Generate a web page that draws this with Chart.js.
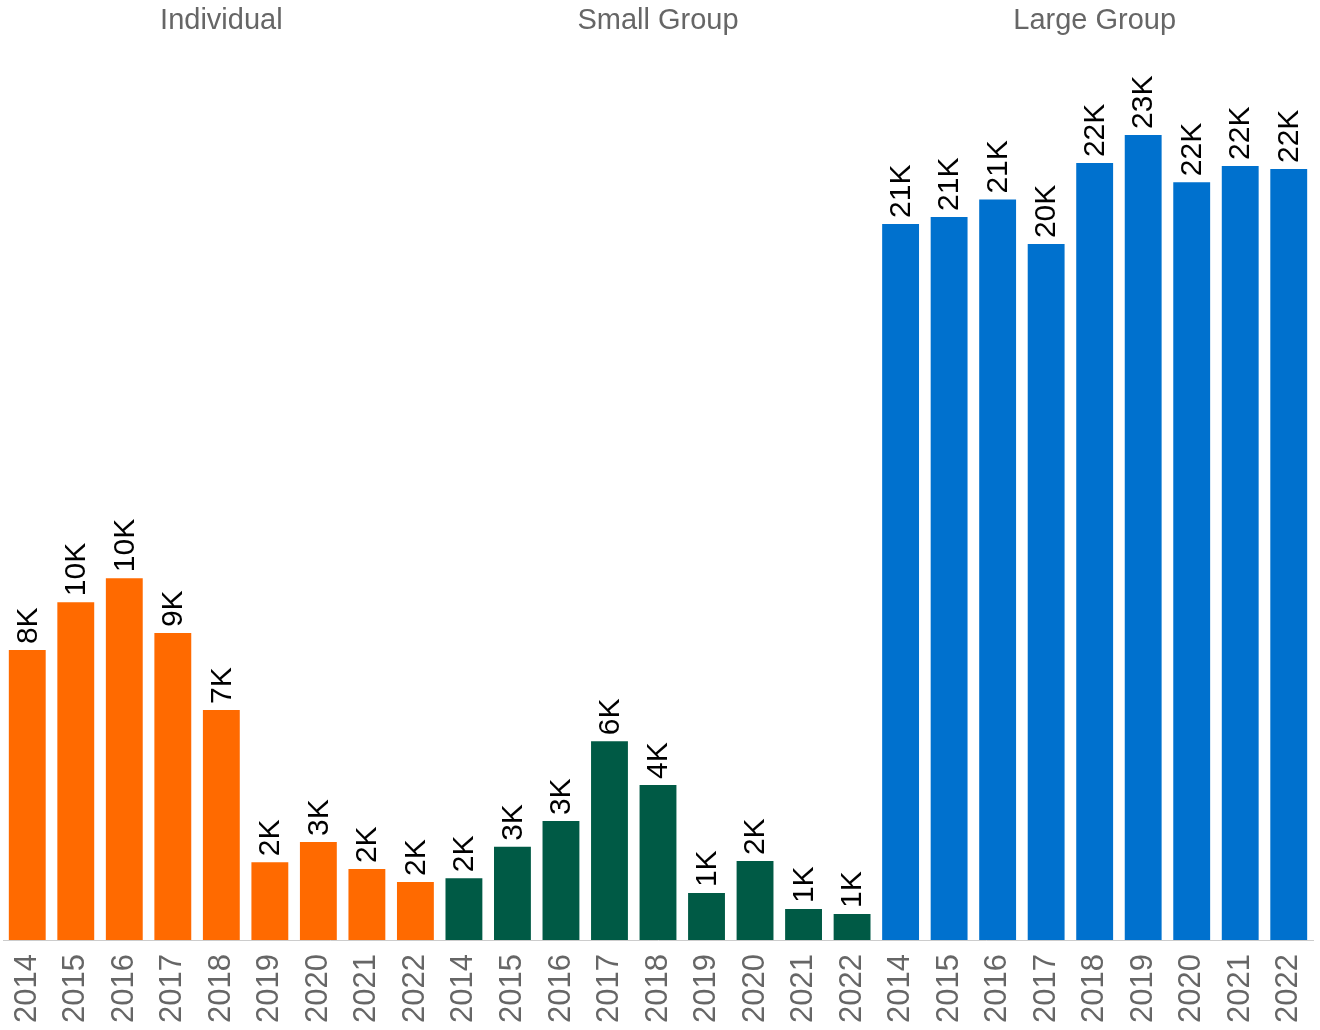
<!DOCTYPE html>
<html>
<head>
<meta charset="utf-8">
<script src="https://cdn.jsdelivr.net/npm/chart.js@4/dist/chart.umd.min.js"></script>
<style>
  html, body { margin: 0; padding: 0; background: #fff; }
  #wrap { width: 1320px; height: 1030px; }
</style>
</head>
<body>
<div id="wrap"><canvas id="plan-chart"></canvas></div>
<script>
// values in thousands
const years = ["2014", "2015", "2016", "2017", "2018", "2019", "2020", "2021", "2022"];
const groupNames = ["Individual", "Small Group", "Large Group"];
const individual = [8.34, 9.72, 10.41, 8.83, 6.62, 2.24, 2.82, 2.04, 1.67];
const smallGroup = [1.78, 2.68, 3.42, 5.72, 4.46, 1.35, 2.27, 0.89, 0.75];
const largeGroup = [20.6, 20.8, 21.3, 20.02, 22.35, 23.16, 21.8, 22.27, 22.18];
const groupColors = ["#ff6a00", "#005a45", "#0071ce"];

// flatten the three groups into one row of bars
const groups = [individual, smallGroup, largeGroup];
const labels = [];
const values = [];
const colors = [];
groups.forEach(function (g, gi) {
    g.forEach(function (v, i) {
        labels.push(years[i]);
        values.push(v);
        colors.push(groupColors[gi]);
    });
});

const fontFamily = "'Liberation Sans', Arial, sans-serif";

// rotated value labels above each bar
const valueLabels = {
    id: "valueLabels",
    afterDatasetsDraw(chart) {
        const ctx = chart.ctx;
        const meta = chart.getDatasetMeta(0);
        ctx.save();
        ctx.fillStyle = "#000";
        ctx.font = "30px " + fontFamily;
        ctx.textAlign = "left";
        ctx.textBaseline = "middle";
        meta.data.forEach(function (bar, i) {
            ctx.save();
            ctx.translate(bar.x + 1, bar.y - 6);
            ctx.rotate(-Math.PI / 2);
            ctx.fillText(Math.round(values[i]) + "K", 0, 0);
            ctx.restore();
        });
        ctx.restore();
    }
};

// group headers along the top, centred over each group
const groupHeaders = {
    id: "groupHeaders",
    afterDraw(chart) {
        const ctx = chart.ctx;
        const x = chart.scales.x;
        ctx.save();
        ctx.fillStyle = "#666";
        ctx.font = "29px " + fontFamily;
        ctx.textAlign = "center";
        ctx.textBaseline = "middle";
        groupNames.forEach(function (name, gi) {
            const mid = gi * years.length + (years.length - 1) / 2;
            ctx.fillText(name, x.getPixelForValue(mid), 21);
        });
        ctx.restore();
    }
};

new Chart("plan-chart", {
    type: "bar",
    data: {
        labels: labels,
        datasets: [{
            data: values,
            backgroundColor: colors,
            barPercentage: 0.76,
            categoryPercentage: 1.0
        }]
    },
    options: {
        responsive: true,
        maintainAspectRatio: false,
        animation: false,
        layout: { padding: { top: 71, left: 3, right: 7, bottom: 0 } },
        plugins: {
            legend: { display: false },
            tooltip: { enabled: false }
        },
        scales: {
            x: {
                grid: { display: false },
                border: { display: true, color: "#cccccc", width: 1 },
                ticks: {
                    autoSkip: false,
                    minRotation: 90,
                    maxRotation: 90,
                    padding: 6,
                    color: "#666",
                    font: { family: fontFamily, size: 31 }
                },
                afterFit(scale) {
                    scale.height = 90;
                    scale.paddingLeft = 0;
                    scale.paddingRight = 0;
                }
            },
            y: {
                display: false,
                min: 0,
                max: 25
            }
        }
    },
    plugins: [valueLabels, groupHeaders]
});
</script>
</body>
</html>
